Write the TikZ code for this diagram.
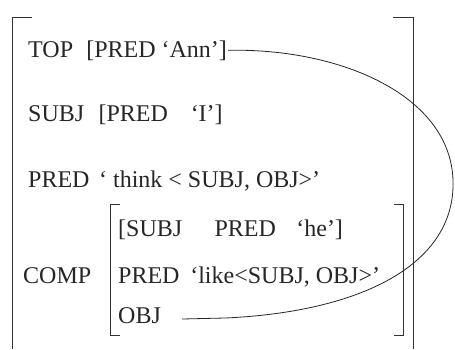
\documentclass[tikz,border=0pt]{standalone}
\usepackage{fontspec}
\setmainfont{Liberation Serif}
\begin{document}
\begin{tikzpicture}[x=1pt,y=-1pt,
  txt/.style={anchor=base west,inner sep=0pt,font=\fontsize{24}{26}\selectfont,text=black!85},
  brk/.style={line width=0.9pt,draw=black!80},
  link/.style={line width=0.8pt,draw=black!85}]
\useasboundingbox[fill=white] (0,0) rectangle (455,349);
% outer bracket
\draw[brk] (32,17) -- (12,17) -- (12,349);
\draw[brk] (393,17) -- (413,17) -- (413,349);
% inner bracket
\draw[brk] (120,204) -- (110,204) -- (110,335) -- (120,335);
\draw[brk] (394,204) -- (403,204) -- (403,335) -- (394,335);
% text
\node[txt] (top) at (28,57) {TOP\hspace{0.55em}[PRED \textquoteleft Ann\textquoteright]};
\node[txt] (subj) at (28,121) {SUBJ\hspace{0.6em}[PRED\hspace{0.95em}\textquoteleft I\textquoteright]};
\node[txt] (pred) at (28,187) {PRED\hspace{0.4em}\textquoteleft\ think \textless\ SUBJ, OBJ\textgreater\textquoteright};
\node[txt] (comp) at (23,283) {COMP};
\node[txt] (isubj) at (118,236) {[SUBJ\hspace{1.35em}PRED\hspace{0.85em}\textquoteleft he\textquoteright]};
\node[txt] (ipred) at (118,283) {PRED\hspace{0.45em}\textquoteleft like\textless SUBJ, OBJ\textgreater\textquoteright};
\node[txt] (obj) at (118,323) {OBJ};
% connector
\coordinate (far) at (453,180);
\coordinate (bend) at (225,318);
\draw[link] ([xshift=1pt]top.east) .. controls (340,48) and (450,95) .. (far)
  .. controls (456,265) and (360,312) .. (bend) -- ([xshift=21pt,yshift=4pt]obj.base east);
\end{tikzpicture}
\end{document}
